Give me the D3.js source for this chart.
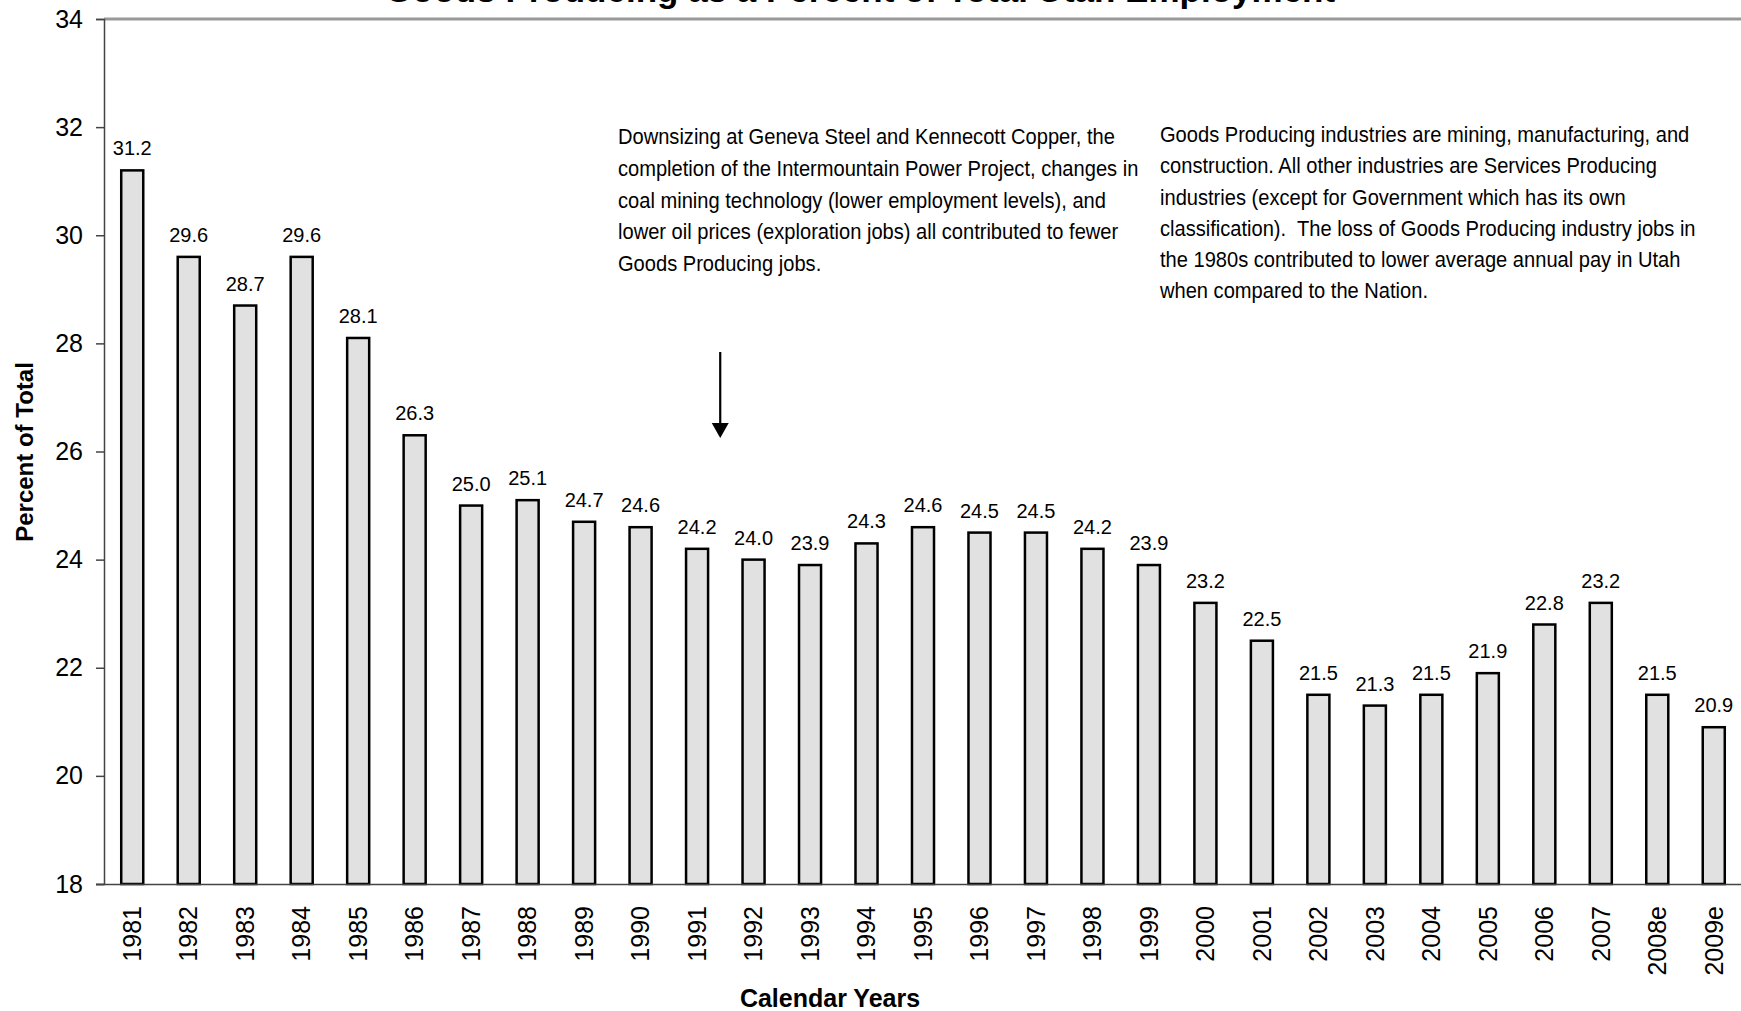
<!DOCTYPE html>
<html>
<head>
<meta charset="utf-8">
<script src="https://cdn.jsdelivr.net/npm/d3@7"></script>
<style>
  body { margin: 0; background: #fff; }
  svg { display: block; font-family: "Liberation Sans", Arial, sans-serif; }
</style>
</head>
<body>
<svg width="1741" height="1011"></svg>
<script>
// data
const years = ['1981','1982','1983','1984','1985','1986','1987','1988','1989','1990',
  '1991','1992','1993','1994','1995','1996','1997','1998','1999','2000',
  '2001','2002','2003','2004','2005','2006','2007','2008e','2009e'];
const goodsShare = [31.2,29.6,28.7,29.6,28.1,26.3,25.0,25.1,24.7,24.6,
  24.2,24.0,23.9,24.3,24.6,24.5,24.5,24.2,23.9,23.2,
  22.5,21.5,21.3,21.5,21.9,22.8,23.2,21.5,20.9];
const yTicks = [18,20,22,24,26,28,30,32,34];

const noteLeft = [
  'Downsizing at Geneva Steel and Kennecott Copper, the',
  'completion of the Intermountain Power Project, changes in',
  'coal mining technology (lower employment levels), and',
  'lower oil prices (exploration jobs) all contributed to fewer',
  'Goods Producing jobs.'
];
const noteRight = [
  'Goods Producing industries are mining, manufacturing, and',
  'construction. All other industries are Services Producing',
  'industries (except for Government which has its own',
  'classification).  The loss of Goods Producing industry jobs in',
  'the 1980s contributed to lower average annual pay in Utah',
  'when compared to the Nation.'
];

const svg = d3.select('svg');
const plotL = 104, plotR = 1742, plotT = 19, plotB = 884;

const x = d3.scaleBand().domain(years).range([plotL, plotR])
  .paddingInner(0.61).paddingOuter(0.305);
const y = d3.scaleLinear().domain([18, 34]).range([plotB, plotT]);

// title (cut off at the top edge in the original)
svg.append('text')
  .attr('x', 860).attr('y', 2)
  .attr('text-anchor', 'middle')
  .style('font-size', '35px').style('font-weight', 'bold')
  .text('Goods Producing as a Percent of Total Utah Employment');

// top border of plot area
svg.append('line')
  .attr('x1', plotL).attr('x2', 1741).attr('y1', plotT).attr('y2', plotT)
  .attr('stroke', '#999').attr('stroke-width', 3);

// bars
svg.selectAll('rect.bar')
  .data(goodsShare)
  .join('rect')
  .attr('class', 'bar')
  .attr('x', (d,i) => x(years[i]))
  .attr('y', d => y(d))
  .attr('width', x.bandwidth())
  .attr('height', d => y(18) - y(d))
  .attr('fill', '#e1e1e1')
  .attr('stroke', '#000')
  .attr('stroke-width', 2.5);

// value labels
svg.selectAll('text.val')
  .data(goodsShare)
  .join('text')
  .attr('class', 'val')
  .attr('x', (d,i) => x(years[i]) + x.bandwidth()/2)
  .attr('y', d => y(d) - 15)
  .attr('text-anchor', 'middle')
  .style('font-size', '20px')
  .text(d => d.toFixed(1));

// y axis
const yAxis = svg.append('g')
  .attr('transform', `translate(${plotL},0)`)
  .call(d3.axisLeft(y).tickValues(yTicks).tickSize(8).tickPadding(13));
yAxis.select('.domain').attr('stroke', '#444').attr('stroke-width', 1.5);
yAxis.selectAll('.tick line').attr('stroke', '#444').attr('stroke-width', 1.5);
yAxis.selectAll('.tick text').style('font-size', '25px')
  .style('font-family', '"Liberation Sans", Arial, sans-serif').attr('fill', '#000');

// x axis
const xAxis = svg.append('g')
  .attr('transform', `translate(0,${plotB})`)
  .call(d3.axisBottom(x).tickSize(0).tickSizeOuter(0));
xAxis.select('.domain').attr('stroke', '#444').attr('stroke-width', 1.5)
  .attr('d', `M${plotL - 8},0.5H1741`);
xAxis.selectAll('.tick text')
  .style('font-size', '25px')
  .style('font-family', '"Liberation Sans", Arial, sans-serif')
  .attr('fill', '#000')
  .attr('text-anchor', 'end')
  .attr('transform', 'rotate(-90)')
  .attr('x', -22).attr('y', 0).attr('dy', '0.35em');

// axis titles
svg.append('text')
  .attr('transform', 'translate(33,452) rotate(-90)')
  .attr('text-anchor', 'middle')
  .style('font-size', '24px').style('font-weight', 'bold')
  .text('Percent of Total');
svg.append('text')
  .attr('x', 830).attr('y', 1007)
  .attr('text-anchor', 'middle')
  .style('font-size', '25px').style('font-weight', 'bold')
  .text('Calendar Years');

// notes, narrow face imitated by squeezing the regular one
function note(lines, x0, y0, gap) {
  svg.append('text')
    .attr('transform', `translate(${x0},${y0}) scale(0.935,1)`)
    .style('font-size', '21.5px')
    .style('white-space', 'pre')
    .selectAll('tspan')
    .data(lines)
    .join('tspan')
    .attr('x', 0)
    .attr('dy', (d,i) => i ? gap : 0)
    .text(d => d);
}
note(noteLeft, 618, 144, 31.8);
note(noteRight, 1160, 142, 31.3);

// arrow between 1991 and 1992
const ax = x('1991') + x.bandwidth() / 2 + x.step() * 0.41;
svg.append('line')
  .attr('x1', ax).attr('x2', ax).attr('y1', 352).attr('y2', 425)
  .attr('stroke', '#000').attr('stroke-width', 2.2);
svg.append('path')
  .attr('d', `M${ax - 8.5},423L${ax + 8.5},423L${ax},438Z`)
  .attr('fill', '#000');
</script>
</body>
</html>
